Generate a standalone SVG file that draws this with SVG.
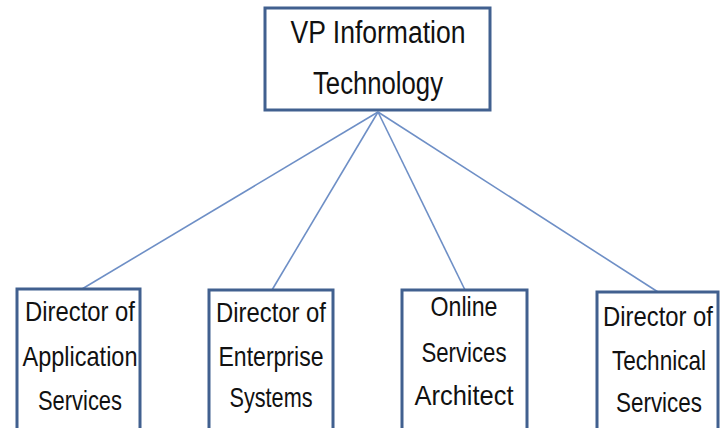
<svg xmlns="http://www.w3.org/2000/svg" width="725" height="428" viewBox="0 0 725 428">
<style>
.box{fill:#fff;stroke:#41608F;stroke-width:3}
.lnk{stroke:#6E8FC6;stroke-width:1.6;fill:none}
text{font-family:"Liberation Sans",Arial,sans-serif;font-size:28px;fill:#111;text-anchor:middle}
.big{font-size:31px}
</style>
<rect width="725" height="428" fill="#fff"/>
<g id="connectors">
<line class="lnk" x1="378" y1="112" x2="82" y2="289"/>
<line class="lnk" x1="378" y1="112" x2="272" y2="290"/>
<line class="lnk" x1="378" y1="112" x2="465" y2="290"/>
<line class="lnk" x1="378" y1="112" x2="658" y2="292"/>
</g>
<g id="vp">
<rect class="box" x="265" y="8" width="225" height="102"/>
<text class="big" x="378" y="43" textLength="175" lengthAdjust="spacingAndGlyphs">VP Information</text>
<text class="big" x="378" y="94" textLength="130" lengthAdjust="spacingAndGlyphs">Technology</text>
</g>
<g id="dir-app">
<rect class="box" x="17" y="289" width="123" height="145"/>
<text x="80" y="321" textLength="110" lengthAdjust="spacingAndGlyphs">Director of</text>
<text x="80" y="366" textLength="115" lengthAdjust="spacingAndGlyphs">Application</text>
<text x="80" y="410" textLength="84" lengthAdjust="spacingAndGlyphs">Services</text>
</g>
<g id="dir-ent">
<rect class="box" x="209" y="290" width="124" height="145"/>
<text x="271" y="322" textLength="110" lengthAdjust="spacingAndGlyphs">Director of</text>
<text x="271" y="366" textLength="105" lengthAdjust="spacingAndGlyphs">Enterprise</text>
<text x="271" y="407" textLength="83" lengthAdjust="spacingAndGlyphs">Systems</text>
</g>
<g id="online">
<rect class="box" x="402" y="290" width="125" height="145"/>
<text x="464" y="316" textLength="67" lengthAdjust="spacingAndGlyphs">Online</text>
<text x="464" y="362" textLength="85" lengthAdjust="spacingAndGlyphs">Services</text>
<text x="464" y="405" textLength="99" lengthAdjust="spacingAndGlyphs">Architect</text>
</g>
<g id="dir-tech">
<rect class="box" x="597" y="292" width="121" height="145"/>
<text x="658" y="326" textLength="110" lengthAdjust="spacingAndGlyphs">Director of</text>
<text x="659" y="370" textLength="94" lengthAdjust="spacingAndGlyphs">Technical</text>
<text x="659" y="412" textLength="86" lengthAdjust="spacingAndGlyphs">Services</text>
</g>
</svg>
